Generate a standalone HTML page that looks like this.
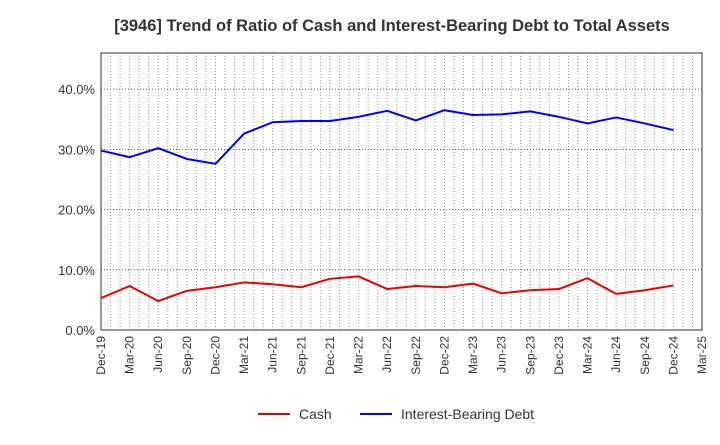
<!DOCTYPE html>
<html><head><meta charset="utf-8"><style>
body{margin:0;background:#fff;}
svg{font-family:"Liberation Sans",Arial,sans-serif;}
</style></head><body>
<svg id="chart" width="720" height="440" xmlns="http://www.w3.org/2000/svg">
<text x="392" y="31" text-anchor="middle" font-size="16.5" font-weight="bold" fill="#333">[3946]  Trend of Ratio of Cash and Interest-Bearing Debt to Total Assets</text>
<g id="grid"></g>
<rect x="101" y="53" width="601" height="277" fill="none" stroke="#333" stroke-width="1"/>
<g id="axes"></g>
<g id="series"></g>
<g>
<line x1="258" y1="414" x2="290" y2="414" stroke="#e00" stroke-width="2"/>
<text x="299" y="419" font-size="14" fill="#333">Cash</text>
<line x1="360" y1="414" x2="392" y2="414" stroke="#00f" stroke-width="2"/>
<text x="401" y="419" font-size="14" fill="#333">Interest-Bearing Debt</text>
</g>
</svg>
<script>
const categories=["Dec-19","Mar-20","Jun-20","Sep-20","Dec-20","Mar-21","Jun-21","Sep-21","Dec-21","Mar-22","Jun-22","Sep-22","Dec-22","Mar-23","Jun-23","Sep-23","Dec-23","Mar-24","Jun-24","Sep-24","Dec-24","Mar-25"];
const cashValues=[5.3,7.3,4.8,6.5,7.1,7.9,7.6,7.1,8.5,8.9,6.8,7.3,7.1,7.7,6.1,6.6,6.8,8.6,6.0,6.6,7.4];
const debtValues=[29.8,28.7,30.2,28.4,27.6,32.6,34.5,34.7,34.7,35.4,36.4,34.8,36.5,35.7,35.8,36.3,35.4,34.3,35.3,34.3,33.2];
const yTicks=[0,10,20,30,40];
const yTickLabels=["0.0%","10.0%","20.0%","30.0%","40.0%"];
const NS="http://www.w3.org/2000/svg";
const L=101,R=702,T=53,B=330,YMAX=46;
const xs=i=>L+i*(R-L)/(categories.length-1);
const ys=v=>B-v*(B-T)/YMAX;
function mk(tag,attrs,parent){const e=document.createElementNS(NS,tag);for(const k in attrs)e.setAttribute(k,attrs[k]);parent.appendChild(e);return e;}
const grid=document.getElementById('grid'),axes=document.getElementById('axes'),series=document.getElementById('series');
const months=(categories.length-1)*3;
for(let m=1;m<months;m++){const x=L+m*(R-L)/months;
const g=mk('line',{x1:x,x2:x,y1:T,y2:B,stroke:'#999','stroke-dasharray':'1,2','stroke-width':1},grid);

}
yTicks.forEach((v,i)=>{const y=ys(v);
if(v>0){const g=mk('line',{x1:L,x2:R,y1:y,y2:y,stroke:'#555','stroke-dasharray':'1,2','stroke-width':1},grid);

}
const t=mk('text',{x:L-6,y:y+5,'text-anchor':'end','font-size':13,fill:'#333'},axes);t.textContent=yTickLabels[i];

});
categories.forEach((c,i)=>{const x=xs(i);
const t=mk('text',{x:x+4,y:B+6,'text-anchor':'end','font-size':12,fill:'#333',transform:`rotate(-90 ${x+4} ${B+6})`},axes);t.textContent=c;

});
function line(vals,color,name){const p=mk('polyline',{points:vals.map((v,i)=>xs(i)+','+ys(v)).join(' '),fill:'none',stroke:color,'stroke-width':2,'stroke-linejoin':'round'},series);

}
line(cashValues,'#e00','cash-line');
line(debtValues,'#00f','debt-line');
</script>
</body></html>
